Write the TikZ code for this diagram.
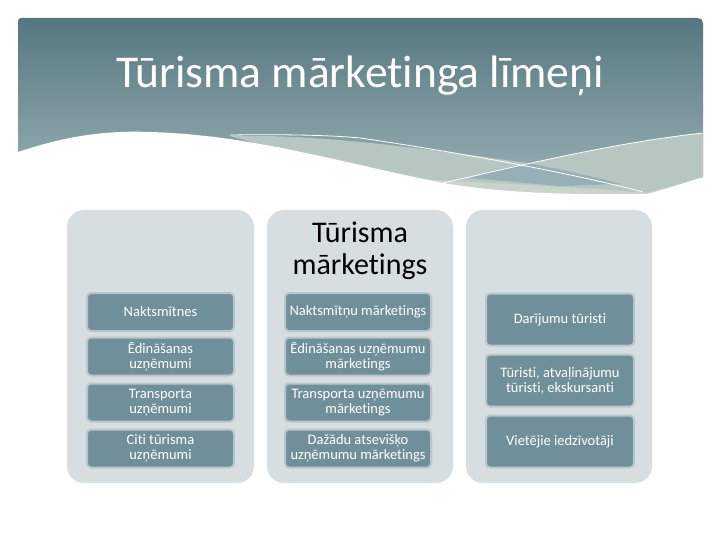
\documentclass[tikz,border=0pt]{standalone}
\usepackage{fontspec}
\setmainfont[Ligatures=NoCommon]{Carlito}
\usetikzlibrary{shadings}
\definecolor{hdtop}{HTML}{56777F}
\definecolor{hdbot}{HTML}{9BB2B6}
\definecolor{sage}{HTML}{B6C7C1}
\definecolor{sagelt}{HTML}{C9D5CB}
\definecolor{bandblue}{HTML}{97AFB6}
\definecolor{panel}{HTML}{D7DEE1}
\definecolor{boxfill}{HTML}{6F909B}
\definecolor{boxedge}{HTML}{BAC6CA}
\tikzset{
  panelbox/.style={fill=panel, draw=none, rounded corners=17pt},
  itembox/.style={fill=boxfill, draw=boxedge, line width=2pt, rounded corners=4pt,
    text=white, align=center, font=\fontsize{14.5}{15}\selectfont, inner sep=0pt},
  thinwhite/.style={draw=white, line width=0.8pt}
}
\begin{document}
\begin{tikzpicture}[x=1pt,y=-1pt]
\useasboundingbox (0,0) rectangle (720,540);
\fill[white] (0,0) rectangle (720,540);
% header gradient
\shade[top color=hdtop, bottom color=hdbot] (18,21) [rounded corners=3pt] -- (18,18) -- (700,18) -- (703,21) [sharp corners] -- (703,196) -- (18,196) -- cycle;
% left sage band (below line1)
\fill[sage] (230,136) .. controls (320,134) and (420,148) .. (527,163) .. controls (580,172) and (620,184) .. (643,193) -- (443,196) -- cycle;
% right sage band (below line2)
\fill[sage] (443,183) .. controls (520,165) and (620,142) .. (703,133) -- (703,196) -- (443,196) -- cycle;
% overlap region bluish
\fill[bandblue] (527,163) .. controls (560,169) and (600,178) .. (620,184) -- (560,186) -- (470,178) .. controls (490,172) and (510,167) .. (527,163) -- cycle;
% light bottom strip
\fill[sagelt] (400,178) .. controls (470,182) and (560,186) .. (647,193) -- (703,177) -- (703,196) -- (400,196) -- cycle;
% white wave
\fill[white] (18,152) .. controls (60,138) and (100,130) .. (150,132) .. controls (250,135) and (330,160) .. (443,183) .. controls (520,196) and (600,194) .. (647,194) .. controls (670,188) and (690,181) .. (704,177) -- (704,200) -- (17,200) -- cycle;
% thin white lines
\coordinate (l1a) at (360,138);
\coordinate (l1b) at (643,192);
\coordinate (l2a) at (443,183);
\coordinate (l2b) at (703,133);
\draw[thinwhite] (230,135) .. controls (300,134) and (340,136) .. (l1a) .. controls (430,148) and (560,170) .. (l1b);
\draw[thinwhite] (l2a) .. controls (530,163) and (620,142) .. (l2b);
% title
\node[text=white, font=\fontsize{45.5}{50}\selectfont] (title) at (360,76) {Tūrisma mārketinga līmeņi};
% panels
\path[panelbox] (67,210) rectangle (254,483);
\path[panelbox] (267,210) rectangle (453,483);
\path[panelbox] (466,210) rectangle (652,483);
\node[align=center, font=\fontsize{30}{32}\selectfont] (mtitle) at (360,251) {Tūrisma\\mārketings};
% left column
\node[itembox, minimum width=147pt, minimum height=38pt] (a1) at (160.5,312) {Naktsmītnes};
\node[itembox, minimum width=147pt, minimum height=38pt] (a2) at (160.5,356.5) {Ēdināšanas\\uzņēmumi};
\node[itembox, minimum width=147pt, minimum height=38pt] (a3) at (160.5,402.5) {Transporta\\uzņēmumi};
\node[itembox, minimum width=147pt, minimum height=38pt] (a4) at (160.5,448.5) {Citi tūrisma\\uzņēmumi};
% middle column
\node[itembox, minimum width=146pt, minimum height=38pt] (b1) at (358,312) {Naktsmītņu mārketings};
\node[itembox, minimum width=146pt, minimum height=38pt] (b2) at (358,356.5) {Ēdināšanas uzņēmumu\\mārketings};
\node[itembox, minimum width=146pt, minimum height=38pt] (b3) at (358,402.5) {Transporta uzņēmumu\\mārketings};
\node[itembox, minimum width=146pt, minimum height=38pt] (b4) at (358,448.5) {Dažādu atsevišķo\\uzņēmumu mārketings};
% right column
\node[itembox, minimum width=148pt, minimum height=52pt] (c1) at (560,319.5) {Darījumu tūristi};
\node[itembox, minimum width=148pt, minimum height=52pt] (c2) at (560,380.5) {Tūristi, atvaļinājumu\\tūristi, ekskursanti};
\node[itembox, minimum width=148pt, minimum height=52pt] (c3) at (560,441.5) {Vietējie iedzīvotāji};
\end{tikzpicture}
\end{document}
